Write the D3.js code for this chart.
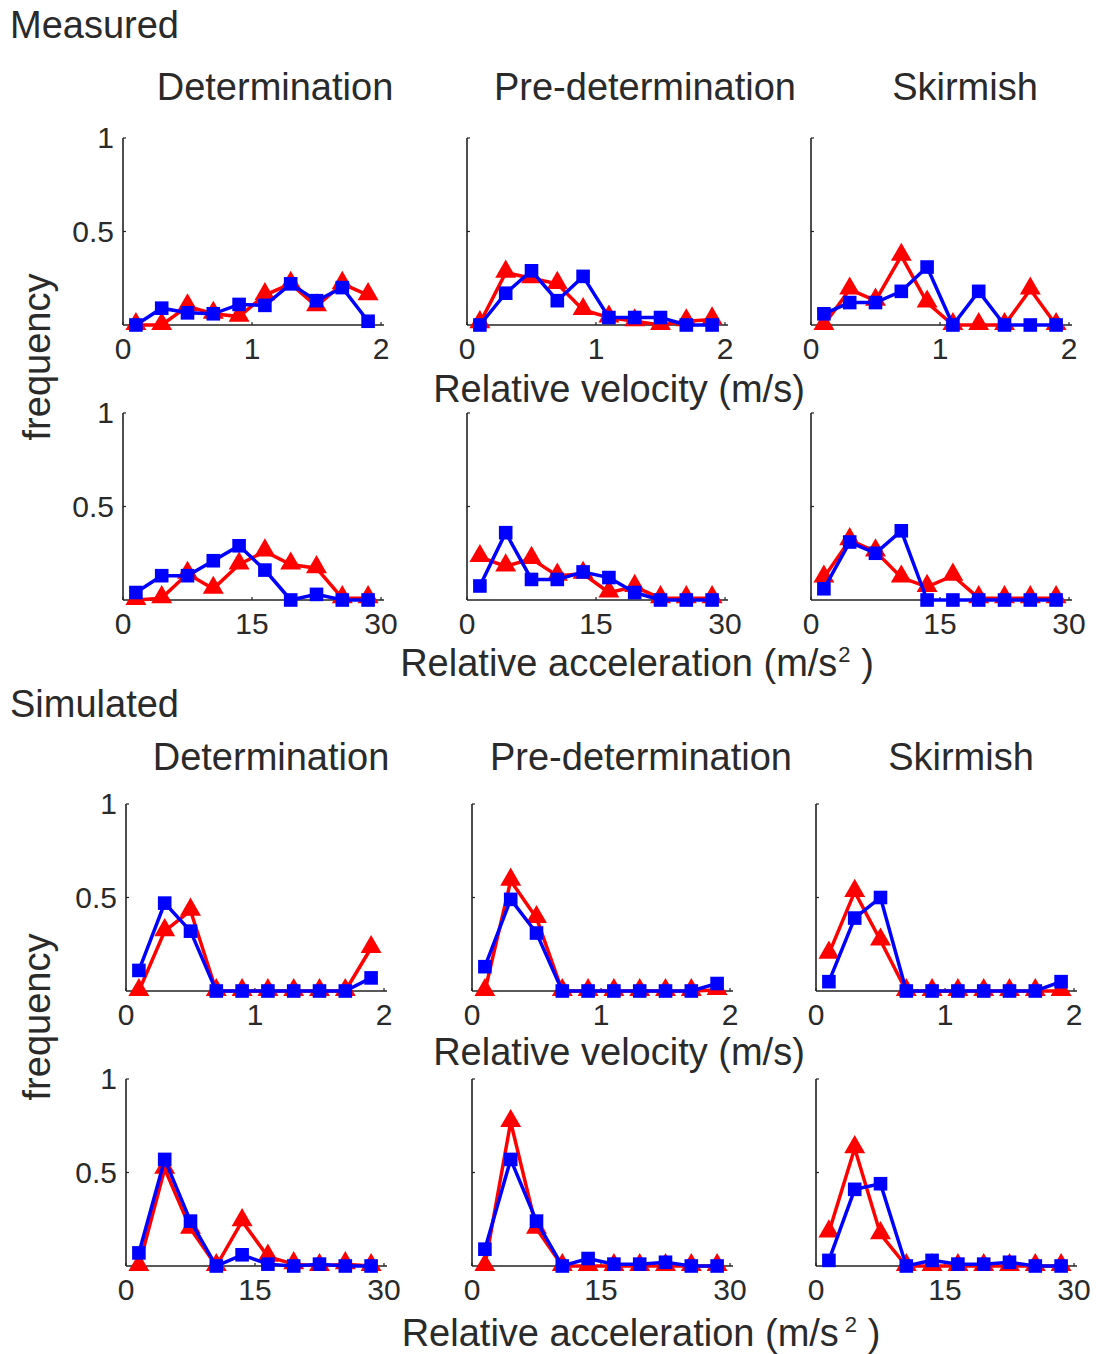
<!DOCTYPE html>
<html>
<head>
<meta charset="utf-8">
<script src="https://cdn.jsdelivr.net/npm/d3@7"></script>
<style>
  body { margin: 0; background: #fff; }
  text { font-family: "Liberation Sans", Arial, sans-serif; fill: #2a2a2a; }
</style>
</head>
<body>
<svg id="fig" width="1097" height="1354"></svg>
<script>
// bin centres
const velBins = [0.1, 0.3, 0.5, 0.7, 0.9, 1.1, 1.3, 1.5, 1.7, 1.9];
const accBins = [1.5, 4.5, 7.5, 10.5, 13.5, 16.5, 19.5, 22.5, 25.5, 28.5];
const velTicks = [0, 1, 2];
const accTicks = [0, 15, 30];
const yTicks = [0.5, 1];
const columnTitles = ["Determination", "Pre-determination", "Skirmish"];

// Measured - velocity
const measVelDetRed = [0, 0, 0.1, 0.06, 0.045, 0.16, 0.22, 0.1, 0.22, 0.16];
const measVelDetBlue = [0, 0.09, 0.065, 0.06, 0.11, 0.105, 0.22, 0.13, 0.2, 0.02];
const measVelPreRed = [0.01, 0.28, 0.25, 0.22, 0.08, 0.04, 0.02, 0, 0.02, 0.03];
const measVelPreBlue = [0, 0.17, 0.29, 0.13, 0.26, 0.04, 0.04, 0.04, 0, 0];
const measVelSkiRed = [0, 0.19, 0.13, 0.37, 0.12, 0, 0, 0, 0.19, 0];
const measVelSkiBlue = [0.06, 0.12, 0.12, 0.18, 0.31, 0, 0.18, 0, 0, 0];
// Measured - acceleration
const measAccDetRed = [0, 0.01, 0.14, 0.06, 0.19, 0.26, 0.19, 0.17, 0.01, 0.01];
const measAccDetBlue = [0.04, 0.13, 0.13, 0.21, 0.29, 0.16, 0, 0.03, 0, 0];
const measAccPreRed = [0.23, 0.18, 0.22, 0.13, 0.14, 0.04, 0.07, 0.01, 0.01, 0.01];
const measAccPreBlue = [0.075, 0.36, 0.11, 0.11, 0.15, 0.12, 0.04, 0, 0, 0];
const measAccSkiRed = [0.12, 0.32, 0.26, 0.12, 0.07, 0.13, 0.01, 0.01, 0.01, 0.01];
const measAccSkiBlue = [0.06, 0.31, 0.25, 0.37, 0, 0, 0, 0, 0, 0];
// Simulated - velocity
const simVelDetRed = [0, 0.32, 0.43, 0, 0, 0, 0, 0, 0, 0.23];
const simVelDetBlue = [0.11, 0.47, 0.32, 0, 0, 0, 0, 0, 0, 0.07];
const simVelPreRed = [0, 0.59, 0.39, 0, 0, 0, 0, 0, 0, 0.005];
const simVelPreBlue = [0.13, 0.49, 0.31, 0, 0, 0, 0, 0, 0, 0.04];
const simVelSkiRed = [0.2, 0.53, 0.27, 0, 0, 0, 0, 0, 0, 0];
const simVelSkiBlue = [0.05, 0.39, 0.5, 0, 0, 0, 0, 0, 0, 0.05];
// Simulated - acceleration
const simAccDetRed = [0, 0.52, 0.2, 0, 0.24, 0.05, 0.01, 0, 0.01, 0];
const simAccDetBlue = [0.07, 0.57, 0.24, 0, 0.06, 0.01, 0, 0.01, 0, 0];
const simAccPreRed = [0, 0.77, 0.2, 0, 0, 0, 0, 0, 0, 0];
const simAccPreBlue = [0.09, 0.57, 0.24, 0, 0.04, 0.01, 0.01, 0.02, 0, 0];
const simAccSkiRed = [0.18, 0.63, 0.17, 0, 0, 0, 0, 0, 0, 0];
const simAccSkiBlue = [0.03, 0.41, 0.44, 0, 0.03, 0.01, 0.01, 0.02, 0, 0];

const svg = d3.select("#fig");
const panelW = 258, panelH = 187;

// rows of panels: top y of each axis box, column origins, data
const rows = [
    { top: 138, cols: [123, 467, 811], bins: velBins, ticks: velTicks, max: 2,
      red: [measVelDetRed, measVelPreRed, measVelSkiRed], blue: [measVelDetBlue, measVelPreBlue, measVelSkiBlue] },
    { top: 413, cols: [123, 467, 811], bins: accBins, ticks: accTicks, max: 30,
      red: [measAccDetRed, measAccPreRed, measAccSkiRed], blue: [measAccDetBlue, measAccPreBlue, measAccSkiBlue] },
    { top: 804, cols: [126, 472, 816], bins: velBins, ticks: velTicks, max: 2,
      red: [simVelDetRed, simVelPreRed, simVelSkiRed], blue: [simVelDetBlue, simVelPreBlue, simVelSkiBlue] },
    { top: 1079, cols: [126, 472, 816], bins: accBins, ticks: accTicks, max: 30,
      red: [simAccDetRed, simAccPreRed, simAccSkiRed], blue: [simAccDetBlue, simAccPreBlue, simAccSkiBlue] }
];

const tri = d3.symbol().type(d3.symbolTriangle).size(190);
const sq = d3.symbol().type(d3.symbolSquare).size(185);

rows.forEach(row => {
    row.cols.forEach((x0, c) => {
        const g = svg.append("g").attr("transform", "translate(" + x0 + "," + row.top + ")");
        const x = d3.scaleLinear().domain([0, row.max]).range([0, panelW]);
        const y = d3.scaleLinear().domain([0, 1]).range([panelH, 0]);

        //axes lines
        g.append("line").attr("x1", 0).attr("x2", 0).attr("y1", 0).attr("y2", panelH)
            .attr("stroke", "#222").attr("stroke-width", 1.6);
        g.append("line").attr("x1", 0).attr("x2", panelW + 3).attr("y1", panelH).attr("y2", panelH)
            .attr("stroke", "#222").attr("stroke-width", 1.6);

        //x ticks (inside)
        row.ticks.forEach(t => {
            g.append("line").attr("x1", x(t)).attr("x2", x(t)).attr("y1", panelH).attr("y2", panelH - 3)
                .attr("stroke", "#222").attr("stroke-width", 1.2);
            g.append("text").attr("x", x(t)).attr("y", panelH + 34)
                .attr("text-anchor", "middle").attr("font-size", 30).text(t);
        });
        //y ticks
        yTicks.forEach(t => {
            g.append("line").attr("x1", 0).attr("x2", 3).attr("y1", y(t)).attr("y2", y(t))
                .attr("stroke", "#222").attr("stroke-width", 1.2);
            if (c === 0) {
                g.append("text").attr("x", -9).attr("y", y(t) + 10)
                    .attr("text-anchor", "end").attr("font-size", 30).text(t);
            }
        });

        const line = d3.line().x((d, i) => x(row.bins[i])).y(d => y(d));

        //red series - triangles
        g.append("path").datum(row.red[c]).attr("d", line)
            .attr("fill", "none").attr("stroke", "#ff0000").attr("stroke-width", 3.5);
        g.selectAll(".tri").data(row.red[c]).join("path")
            .attr("class", "tri")
            .attr("d", tri)
            .attr("transform", (d, i) => "translate(" + x(row.bins[i]) + "," + (y(d) - 1) + ")")
            .attr("fill", "#ff0000");

        //blue series - squares
        g.append("path").datum(row.blue[c]).attr("d", line)
            .attr("fill", "none").attr("stroke", "#0000ff").attr("stroke-width", 3.5);
        g.selectAll(".sq").data(row.blue[c]).join("path")
            .attr("class", "sq")
            .attr("d", sq)
            .attr("transform", (d, i) => "translate(" + x(row.bins[i]) + "," + y(d) + ")")
            .attr("fill", "#0000ff");
    });
});

//TEXTS---------------------------------------------------------------
const big = 38;
svg.append("text").attr("x", 10).attr("y", 38).attr("font-size", big).text("Measured");
svg.append("text").attr("x", 10).attr("y", 717).attr("font-size", big).text("Simulated");

const titleX1 = [275, 645, 965];
const titleX2 = [271, 641, 961];
columnTitles.forEach((t, i) => {
    svg.append("text").attr("x", titleX1[i]).attr("y", 100).attr("text-anchor", "middle")
        .attr("font-size", big).text(t);
    svg.append("text").attr("x", titleX2[i]).attr("y", 770).attr("text-anchor", "middle")
        .attr("font-size", big).text(t);
});

svg.append("text").attr("x", 619).attr("y", 402).attr("text-anchor", "middle")
    .attr("font-size", big).text("Relative velocity (m/s)");
svg.append("text").attr("x", 619).attr("y", 1065).attr("text-anchor", "middle")
    .attr("font-size", big).text("Relative velocity (m/s)");

function accLabel(cx, cy, gap) {
    const t = svg.append("text").attr("x", cx).attr("y", cy).attr("text-anchor", "middle")
        .attr("font-size", big);
    t.append("tspan").text("Relative acceleration (m/s");
    t.append("tspan").attr("dx", gap).attr("dy", -14).attr("font-size", 22).text("2");
    t.append("tspan").attr("dy", 14).text(" )");
}
accLabel(637, 676, 1);
accLabel(641, 1346, 6);

[357, 1017].forEach(cy => {
    svg.append("text").attr("transform", "translate(50," + cy + ") rotate(-90)")
        .attr("text-anchor", "middle").attr("font-size", big).text("frequency");
});
</script>
</body>
</html>
